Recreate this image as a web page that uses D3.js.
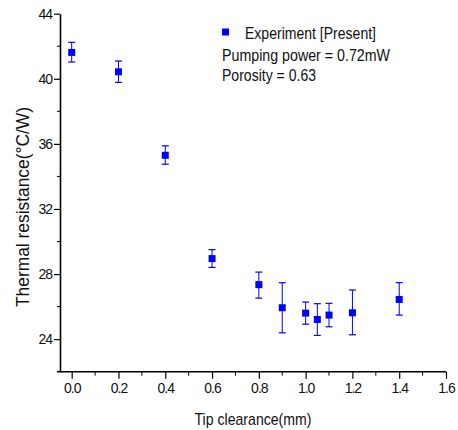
<!DOCTYPE html>
<html>
<head>
<meta charset="utf-8">
<script src="https://cdn.jsdelivr.net/npm/d3@7"></script>
<style>
body { margin: 0; background: #fff; }
text { font-family: "Liberation Sans", Arial, sans-serif; fill: #111; }
</style>
</head>
<body>
<div id="chart"></div>
<script>
// data
var clearance = [0.0, 0.2, 0.4, 0.6, 0.8, 0.9, 1.0, 1.05, 1.1, 1.2, 1.4];
var resistance = [41.62, 40.43, 35.30, 28.95, 27.35, 25.93, 25.60, 25.21, 25.48, 25.62, 26.44];
var errUp = [42.24, 41.09, 35.88, 29.50, 28.12, 27.47, 26.28, 26.18, 26.20, 27.02, 27.47];
var errDown = [41.03, 39.78, 34.75, 28.41, 26.52, 24.39, 24.92, 24.23, 24.76, 24.27, 25.48];
var xMajor = [0.0, 0.2, 0.4, 0.6, 0.8, 1.0, 1.2, 1.4, 1.6];
var xMinor = [0.1, 0.3, 0.5, 0.7, 0.9, 1.1, 1.3, 1.5];
var yMajor = [24, 28, 32, 36, 40, 44];
var yMinor = [26, 30, 34, 38, 42];
var legendLines = ["Pumping power = 0.72mW", "Porosity = 0.63"];

var width = 458, height = 430;
var blue = "#0000ff";

var svg = d3.select("#chart")
.append("svg")
.attr("width", width)
.attr("height", height);

var x = d3.scaleLinear().domain([-0.05, 1.6]).range([60, 446]);
var y = d3.scaleLinear().domain([22, 44]).range([371.7, 13.7]);

// axes (only left and bottom, Origin style)
var xAxis = svg.append("g")
.attr("transform", "translate(0," + y(22) + ")")
.call(d3.axisBottom(x).tickValues(xMajor).tickSizeInner(7).tickSizeOuter(0).tickPadding(4)
  .tickFormat(d3.format(".1f")));
xAxis.append("g").selectAll("line")
.data(xMinor).enter()
.append("line")
.attr("x1", function(d){ return x(d) }).attr("x2", function(d){ return x(d) })
.attr("y1", 0).attr("y2", 4)
.attr("stroke", "#000");

var yAxis = svg.append("g")
.attr("transform", "translate(" + x(-0.05) + ",0)")
.call(d3.axisLeft(y).tickValues(yMajor).tickSizeInner(6).tickSizeOuter(0).tickPadding(2));
yAxis.append("g").selectAll("line")
.data(yMinor).enter()
.append("line")
.attr("y1", function(d){ return y(d) }).attr("y2", function(d){ return y(d) })
.attr("x1", 0).attr("x2", -3)
.attr("stroke", "#000");

svg.selectAll(".domain").attr("stroke", "#000").attr("stroke-width", 1.6);
svg.selectAll(".tick line").attr("stroke", "#000").attr("stroke-width", 1.2);
svg.selectAll(".tick text")
.style("font-size", "14px")
.style("letter-spacing", "-1px")
.style("font-family", "'Liberation Sans', Arial, sans-serif")
.attr("fill", "#111");
// bottom line pokes a little to the left of the y axis
xAxis.select(".domain").attr("d", "M" + (x(-0.05) - 3) + ",0H" + x(1.6));

// error bars
var bars = svg.append("g");
bars.selectAll("line.v")
.data(clearance).enter()
.append("line")
.attr("x1", function(d){ return x(d) }).attr("x2", function(d){ return x(d) })
.attr("y1", function(d, i){ return y(errUp[i]) })
.attr("y2", function(d, i){ return y(errDown[i]) })
.attr("stroke", blue).attr("stroke-width", 1);
bars.selectAll("line.top")
.data(clearance).enter()
.append("line")
.attr("x1", function(d){ return x(d) - 3.5 }).attr("x2", function(d){ return x(d) + 3.5 })
.attr("y1", function(d, i){ return y(errUp[i]) })
.attr("y2", function(d, i){ return y(errUp[i]) })
.attr("stroke", blue).attr("stroke-width", 1.2);
bars.selectAll("line.bot")
.data(clearance).enter()
.append("line")
.attr("x1", function(d){ return x(d) - 3.5 }).attr("x2", function(d){ return x(d) + 3.5 })
.attr("y1", function(d, i){ return y(errDown[i]) })
.attr("y2", function(d, i){ return y(errDown[i]) })
.attr("stroke", blue).attr("stroke-width", 1.2);

// square markers
svg.append("g").selectAll("rect")
.data(clearance).enter()
.append("rect")
.attr("x", function(d){ return x(d) - 3.5 })
.attr("y", function(d, i){ return y(resistance[i]) - 3.5 })
.attr("width", 7).attr("height", 7)
.attr("fill", blue);

// legend
svg.append("rect")
.attr("x", 222).attr("y", 28.5).attr("width", 7).attr("height", 7)
.attr("fill", blue);
svg.append("text")
.attr("x", 245).attr("y", 39)
.style("font-size", "17px")
.attr("textLength", 131).attr("lengthAdjust", "spacingAndGlyphs")
.text("Experiment [Present]");
svg.selectAll("text.leg")
.data(legendLines).enter()
.append("text")
.attr("class", "leg")
.attr("x", 222)
.attr("y", function(d, i){ return 61 + i * 20 })
.style("font-size", "17px")
.attr("textLength", function(d, i){ return [168, 94][i] })
.attr("lengthAdjust", "spacingAndGlyphs")
.text(function(d){ return d });

// axis titles
svg.append("text")
.attr("text-anchor", "middle")
.attr("x", 253).attr("y", 425)
.style("font-size", "17px")
.attr("textLength", 117).attr("lengthAdjust", "spacingAndGlyphs")
.text("Tip clearance(mm)");

svg.append("text")
.attr("text-anchor", "middle")
.attr("transform", "translate(29,207) rotate(-90)")
.style("font-size", "18px")
.attr("textLength", 200).attr("lengthAdjust", "spacingAndGlyphs")
.text("Thermal resistance(°C/W)");
</script>
</body>
</html>
